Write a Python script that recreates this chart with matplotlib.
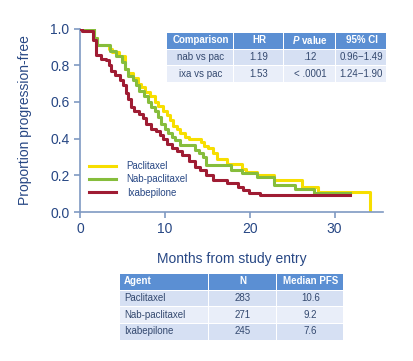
import matplotlib.pyplot as plt
from matplotlib.patches import Rectangle

plt.rcParams['font.family'] = ['Liberation Sans', 'DejaVu Sans']
plt.rcParams['mathtext.fontset'] = 'custom'
plt.rcParams['mathtext.it'] = 'Liberation Sans:italic:bold'

# Kaplan-Meier step data (time in months, proportion after step)
pac_t = [0, 1.7, 2.0, 3.4, 3.8, 4.6, 5.3, 5.6, 6.2, 6.8, 7.2, 7.6, 8.2, 8.8, 9.2, 9.8,
         10.2, 10.6, 11.0, 11.4, 11.8, 12.4, 12.8, 14.2, 14.6, 15.1, 15.7, 16.1, 17.3,
         19.1, 19.6, 20.8, 22.9, 26.1, 28.0, 34.2]
pac_s = [1.0, 0.95, 0.91, 0.89, 0.87, 0.85, 0.78, 0.755, 0.73, 0.70, 0.68, 0.655, 0.63,
         0.60, 0.58, 0.55, 0.53, 0.50, 0.47, 0.45, 0.43, 0.41, 0.40, 0.38, 0.36, 0.35,
         0.32, 0.29, 0.264, 0.237, 0.218, 0.20, 0.173, 0.136, 0.11, 0.0]

nab_t = [0, 1.6, 2.0, 3.5, 4.3, 4.9, 5.3, 5.7, 6.2, 6.6, 7.0, 7.5, 8.0, 8.4, 8.8, 9.2,
         9.6, 10.0, 10.4, 10.8, 11.2, 11.8, 13.5, 14.0, 14.5, 14.9, 17.8, 19.1, 20.8,
         22.8, 25.3, 27.6, 31.8]
nab_s = [1.0, 0.95, 0.91, 0.88, 0.85, 0.82, 0.78, 0.74, 0.72, 0.69, 0.66, 0.63, 0.60,
         0.57, 0.55, 0.52, 0.48, 0.45, 0.43, 0.41, 0.39, 0.364, 0.336, 0.32, 0.30, 0.255,
         0.23, 0.21, 0.19, 0.148, 0.127, 0.106, 0.106]

ixa_t = [0, 0.2, 1.5, 1.9, 2.5, 3.1, 3.4, 3.7, 4.1, 4.7, 5.1, 5.4, 5.6, 6.0, 6.4, 7.0,
         7.4, 7.8, 8.4, 9.0, 9.4, 9.8, 10.2, 10.8, 11.4, 12.0, 12.9, 13.5, 14.1, 14.9,
         15.7, 17.3, 18.6, 19.2, 19.9, 21.2, 31.8]
ixa_s = [1.0, 0.985, 0.94, 0.855, 0.836, 0.827, 0.80, 0.77, 0.745, 0.72, 0.69, 0.65,
         0.618, 0.573, 0.55, 0.536, 0.51, 0.48, 0.45, 0.44, 0.42, 0.40, 0.37, 0.35, 0.33,
         0.31, 0.28, 0.245, 0.227, 0.20, 0.173, 0.158, 0.136, 0.122, 0.106, 0.091, 0.091]

cmp_header = ['Comparison', 'HR', '$P$ value', '95% CI']
cmp_rows = [['nab vs pac', '1.19', '.12', '0.96\u22121.49'],
            ['ixa vs pac', '1.53', '< .0001', '1.24\u22121.90']]

agent_header = ['Agent', 'N', 'Median PFS']
agent_rows = [['Paclitaxel', '283', '10.6'],
              ['Nab-paclitaxel', '271', '9.2'],
              ['Ixabepilone', '245', '7.6']]

W, H = 413, 361
spine_c = '#7f99c2'
text_c = '#274784'
yellow = '#f7de00'
green = '#86bd3c'
red = '#9f1c33'

fig = plt.figure(figsize=(W / 100, H / 100), dpi=100)
ax = fig.add_axes([80 / W, 1 - 212 / H, 303 / W, 183.5 / H])

ax.step(nab_t, nab_s, where='post', color=green, lw=2.2, label='Nab-paclitaxel', zorder=2)
ax.step(ixa_t, ixa_s, where='post', color=red, lw=2.2, label='Ixabepilone', zorder=3)
ax.step(pac_t, pac_s, where='post', color=yellow, lw=2.2, label='Paclitaxel', zorder=1)

ax.set_xlim(0, 35.7)
ax.set_ylim(0, 1.0)
ax.set_xticks([0, 10, 20, 30])
ax.set_yticks([0, 0.2, 0.4, 0.6, 0.8, 1.0])
ax.set_yticklabels(['0.0', '0.2', '0.4', '0.6', '0.8', '1.0'])
for s in ['top', 'right']:
    ax.spines[s].set_visible(False)
for s in ['left', 'bottom']:
    ax.spines[s].set_color(spine_c)
    ax.spines[s].set_linewidth(1.2)
ax.tick_params(colors=spine_c, labelcolor=text_c, labelsize=10, length=4, width=1.2)
ax.set_xlabel('Months from study entry', fontsize=10, color=text_c, labelpad=11)
ax.set_ylabel('Proportion progression-free', fontsize=10, color=text_c, labelpad=13)

h, l = ax.get_legend_handles_labels()
order = [2, 0, 1]
ax.legend([h[i] for i in order], [l[i] for i in order], loc='lower left',
          bbox_to_anchor=(0.0, 0.03), frameon=False, fontsize=7, handlelength=2.8,
          handletextpad=1.1, labelspacing=0.35, labelcolor=text_c)


def draw_table(x0, y0, col_edges, row_h, header, rows, first_left=False):
    hdr_c = '#5b8fd3'
    band = ['#d6e0f3', '#e9eef9']
    all_rows = [header] + rows
    for r, row in enumerate(all_rows):
        top = y0 + r * row_h
        fc = hdr_c if r == 0 else band[(r - 1) % 2]
        for c, txt in enumerate(row):
            xl, xr = x0 + col_edges[c], x0 + col_edges[c + 1]
            fig.add_artist(Rectangle((xl / W, 1 - (top + row_h) / H), (xr - xl - 1) / W,
                                     (row_h - 1) / H, transform=fig.transFigure,
                                     facecolor=fc, edgecolor='none'))
            if first_left and c == 0:
                tx, ha = (xl + 4) / W, 'left'
            else:
                tx, ha = (xl + xr) / 2 / W, 'center'
            fig.text(tx, 1 - (top + row_h / 2) / H, txt, ha=ha, va='center',
                     fontsize=7, color='white' if r == 0 else '#34496f',
                     fontweight='bold' if r == 0 else 'normal')


draw_table(167, 32, [0, 67, 117, 169, 220], 16.7, cmp_header, cmp_rows)
draw_table(120, 273, [0, 89, 157, 224], 16.7, agent_header, agent_rows, first_left=True)

fig.savefig('out.png', dpi=100)
